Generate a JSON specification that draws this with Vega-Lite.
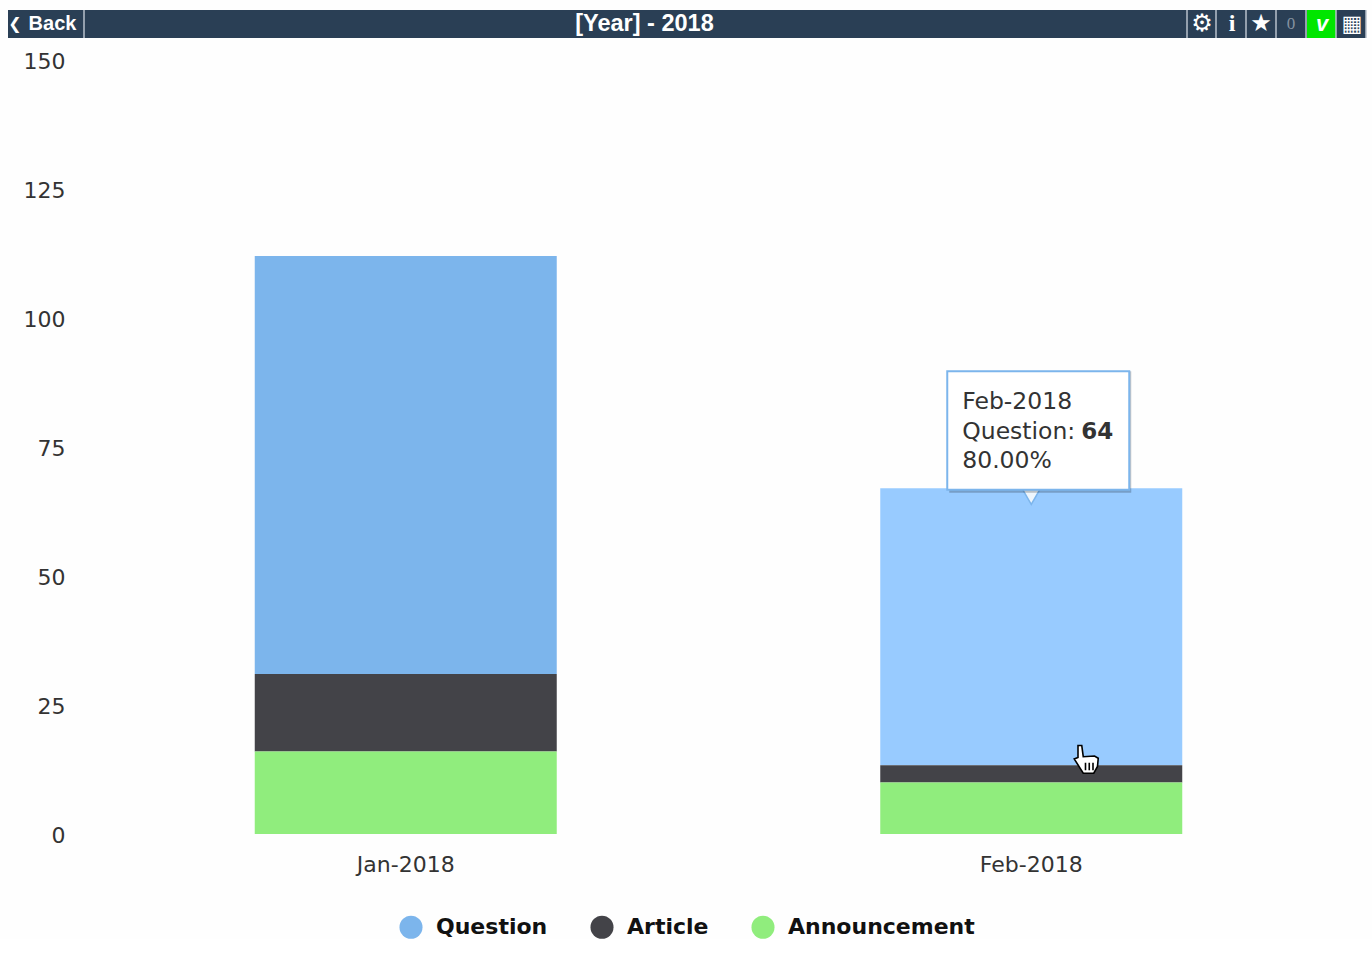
{
"$schema":"https://vega.github.io/schema/vega-lite/v6.json",
"background":"#fefefe",
"padding":{"left":8,"top":9,"right":6,"bottom":0},
"autosize":{"type":"pad"},
"spacing":22,
"bounds":"flush",
"config":{"concat":{"spacing":22},"view":{"stroke":null},"font":"DejaVu Sans"},
"datasets":{
"bars":[
{"month":"Jan-2018","series":"Question","rank":3,"value":81},
{"month":"Jan-2018","series":"Article","rank":2,"value":15},
{"month":"Jan-2018","series":"Announcement","rank":1,"value":16},
{"month":"Feb-2018","series":"Question","rank":3,"value":53.7},
{"month":"Feb-2018","series":"Article","rank":2,"value":3.3},
{"month":"Feb-2018","series":"Announcement","rank":1,"value":10}
],
"box":[{"month":"Feb-2018","low":66.7,"high":89.7}],
"tip":[
{"month":"Feb-2018","value":83.8,"label":"Feb-2018"},
{"month":"Feb-2018","value":78,"label":"Question:"},
{"month":"Feb-2018","value":72.2,"label":"80.00%"}
],
"tipBold":[{"month":"Feb-2018","value":78,"label":"64"}],
"tail":[{"month":"Feb-2018","value":65.6}],
"hand":[{"month":"Feb-2018","value":14.4}],
"cells":[
{"left":0,"right":76,"kind":"Back"},
{"left":77,"right":1179,"kind":"Title"},
{"left":1180,"right":1208,"kind":"gear"},
{"left":1209,"right":1238,"kind":"info"},
{"left":1239,"right":1268,"kind":"star"},
{"left":1269,"right":1298,"kind":"count"},
{"left":1299,"right":1328,"kind":"v"},
{"left":1329,"right":1358,"kind":"table"}
],
"headSans":[
{"pos":44.5,"label":"Back","size":20},
{"pos":636.5,"label":"[Year] - 2018","size":23.5}
],
"headGlyph":[
{"pos":7,"label":"❮","size":16},
{"pos":1194,"label":"⚙","size":24},
{"pos":1253,"label":"★","size":24},
{"pos":1344,"label":"▦","size":22}
],
"headI":[{"pos":1224,"label":"i","size":24}],
"headV":[{"pos":1314,"label":"v","size":22}],
"headZero":[{"pos":1283,"label":"0","size":17}]
},
"vconcat":[
{
"width":1358,"height":28,
"view":{"fill":"#2a3f55","stroke":null},
"layer":[
{"data":{"name":"cells"},
 "transform":[{"filter":"datum.kind==='v'"}],
 "mark":{"type":"rect","fill":"#00e600"},
 "encoding":{"x":{"field":"left","type":"quantitative","scale":{"domain":[0,1358],"nice":false},"axis":null},"x2":{"field":"right"}}},
{"data":{"name":"cells"},
 "mark":{"type":"rule","color":"#b9c2cc","strokeWidth":1.5},
 "encoding":{"x":{"field":"right","type":"quantitative","axis":null}}},
{"data":{"name":"headSans"},
 "mark":{"type":"text","align":"center","baseline":"middle","font":"Liberation Sans","fontWeight":"bold","color":"#ffffff"},
 "encoding":{"x":{"field":"pos","type":"quantitative","axis":null},"text":{"field":"label"},"size":{"field":"size","type":"quantitative","scale":null}}},
{"data":{"name":"headGlyph"},
 "mark":{"type":"text","align":"center","baseline":"middle","font":"DejaVu Sans","fontWeight":"bold","color":"#ffffff"},
 "encoding":{"x":{"field":"pos","type":"quantitative","axis":null},"text":{"field":"label"},"size":{"field":"size","type":"quantitative","scale":null}}},
{"data":{"name":"headI"},
 "mark":{"type":"text","align":"center","baseline":"middle","font":"Liberation Serif","fontWeight":"bold","color":"#ffffff"},
 "encoding":{"x":{"field":"pos","type":"quantitative","axis":null},"text":{"field":"label"},"size":{"field":"size","type":"quantitative","scale":null}}},
{"data":{"name":"headV"},
 "mark":{"type":"text","align":"center","baseline":"middle","font":"Liberation Sans","fontWeight":"bold","fontStyle":"italic","color":"#ffffff"},
 "encoding":{"x":{"field":"pos","type":"quantitative","axis":null},"text":{"field":"label"},"size":{"field":"size","type":"quantitative","scale":null}}},
{"data":{"name":"headZero"},
 "mark":{"type":"text","align":"center","baseline":"middle","font":"Liberation Serif","color":"#8592a0"},
 "encoding":{"x":{"field":"pos","type":"quantitative","axis":null},"text":{"field":"label"},"size":{"field":"size","type":"quantitative","scale":null}}}
]
},
{
"width":1358,"height":774,
"layer":[
{"data":{"name":"bars"},
 "mark":{"type":"bar","size":302},
 "encoding":{
  "x":{"field":"month","type":"nominal",
   "scale":{"domain":["Jan-2018","Feb-2018"],"range":[85,1336],"paddingInner":0.5176,"paddingOuter":0.2588},
   "axis":{"title":null,"labelAngle":0,"domain":false,"ticks":false,"labelFontSize":22,"labelColor":"#333333","labelPadding":20}},
  "y":{"field":"value","type":"quantitative","stack":"zero","scale":{"domain":[0,150],"nice":false},
   "axis":{"title":null,"values":[0,25,50,75,100,125,150],"grid":false,"domain":false,"ticks":false,"labelFontSize":22,"labelColor":"#333333","labelPadding":-57,"labelOffset":1,"zindex":1}},
  "order":{"field":"rank","type":"ordinal"},
  "color":{"condition":{"test":"datum.month==='Feb-2018'&&datum.series==='Question'","value":"#98cbff"},
   "field":"series","type":"nominal",
   "scale":{"domain":["Question","Article","Announcement"],"range":["#7cb5ec","#434348","#90ed7d"]},
   "legend":{"title":null,"orient":"none","legendX":391,"legendY":905,"direction":"horizontal","symbolType":"circle","symbolSize":530,"symbolStrokeWidth":0,"symbolOpacity":1,"labelFontSize":22,"labelFontWeight":"bold","labelColor":"#111111","labelOffset":13,"columnPadding":42,"padding":0,"labelLimit":300}}
 }},
{"data":{"name":"tail"},
 "mark":{"type":"point","shape":"triangle-down","filled":true,"fill":"#eef6fd","stroke":"#7cb5ec","strokeWidth":1.5,"size":420,"opacity":1},
 "encoding":{"x":{"field":"month","type":"nominal"},"y":{"field":"value","type":"quantitative"}}},
{"data":{"name":"box"},
 "mark":{"type":"bar","size":182,"xOffset":9,"yOffset":3,"fill":"#000000","opacity":0.22},
 "encoding":{"x":{"field":"month","type":"nominal"},"y":{"field":"low","type":"quantitative"},"y2":{"field":"high"}}},
{"data":{"name":"box"},
 "mark":{"type":"bar","size":182,"xOffset":7,"fill":"#ffffff","stroke":"#7cb5ec","strokeWidth":2},
 "encoding":{"x":{"field":"month","type":"nominal"},"y":{"field":"low","type":"quantitative"},"y2":{"field":"high"}}},
{"data":{"name":"tip"},
 "mark":{"type":"text","align":"left","baseline":"middle","dx":-69,"fontSize":23.5,"color":"#333333"},
 "encoding":{"x":{"field":"month","type":"nominal"},"y":{"field":"value","type":"quantitative"},"text":{"field":"label"}}},
{"data":{"name":"tipBold"},
 "mark":{"type":"text","align":"left","baseline":"middle","dx":50,"fontSize":23,"fontWeight":"bold","color":"#333333"},
 "encoding":{"x":{"field":"month","type":"nominal"},"y":{"field":"value","type":"quantitative"},"text":{"field":"label"}}},
{"data":{"name":"hand"},
 "mark":{"type":"point","filled":true,"fill":"#ffffff","stroke":"#000000","strokeWidth":1.6,"opacity":1,"size":900,"xOffset":55,
  "shape":"M-0.55,-0.95 L-0.3,-0.95 L-0.2,-0.2 L0.55,-0.25 L0.8,-0.1 L0.75,0.45 L0.5,0.9 L-0.2,0.9 L-0.8,-0.05 L-0.55,-0.15 Z M-0.05,0.2 L-0.05,0.7 M0.2,0.2 L0.2,0.7 M0.45,0.2 L0.45,0.7"},
 "encoding":{"x":{"field":"month","type":"nominal"},"y":{"field":"value","type":"quantitative"}}}
]
}
]
}
